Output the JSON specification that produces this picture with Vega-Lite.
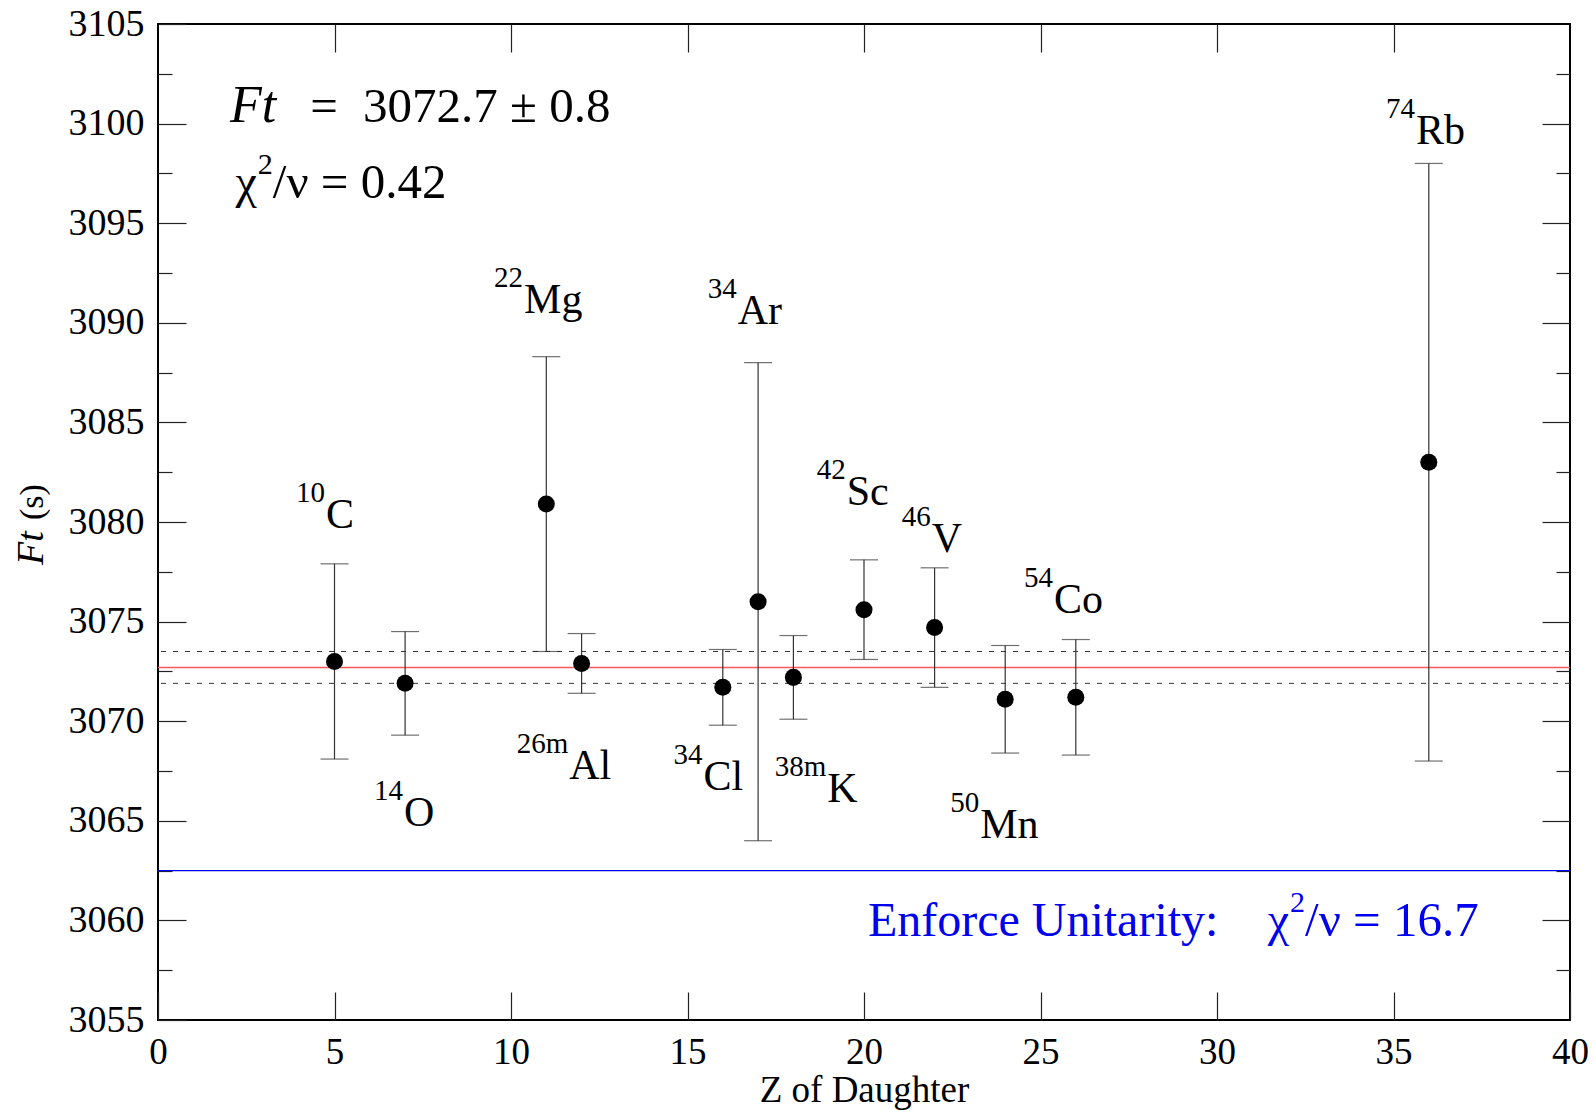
{
  "$schema": "https://vega.github.io/schema/vega-lite/v6.json",
  "width": 1412,
  "height": 996,
  "autosize": {"type": "none"},
  "padding": {"left": 158, "top": 24, "right": 26, "bottom": 92},
  "background": "white",
  "config": {
    "view": {"stroke": "black", "strokeWidth": 2},
    "font": "Liberation Serif",
    "axis": {
      "grid": false,
      "domain": false,
      "labelFont": "Liberation Serif",
      "titleFont": "Liberation Serif",
      "tickColor": "#222",
      "tickWidth": 1.2,
      "labelColor": "black",
      "titleColor": "black",
      "titleFontWeight": "normal"
    }
  },
  "datasets": {
    "pts": [
      {"nuc": "10C", "Z": 5, "Ft": 3073.0, "lo": 3068.1, "hi": 3077.9},
      {"nuc": "14O", "Z": 7, "Ft": 3071.9, "lo": 3069.3, "hi": 3074.5},
      {"nuc": "22Mg", "Z": 11, "Ft": 3080.9, "lo": 3073.5, "hi": 3088.3},
      {"nuc": "26mAl", "Z": 12, "Ft": 3072.9, "lo": 3071.4, "hi": 3074.4},
      {"nuc": "34Cl", "Z": 16, "Ft": 3071.7, "lo": 3069.8, "hi": 3073.6},
      {"nuc": "34Ar", "Z": 17, "Ft": 3076.0, "lo": 3064.0, "hi": 3088.0},
      {"nuc": "38mK", "Z": 18, "Ft": 3072.2, "lo": 3070.1, "hi": 3074.3},
      {"nuc": "42Sc", "Z": 20, "Ft": 3075.6, "lo": 3073.1, "hi": 3078.1},
      {"nuc": "46V", "Z": 22, "Ft": 3074.7, "lo": 3071.7, "hi": 3077.7},
      {"nuc": "50Mn", "Z": 24, "Ft": 3071.1, "lo": 3068.4, "hi": 3073.8},
      {"nuc": "54Co", "Z": 26, "Ft": 3071.2, "lo": 3068.3, "hi": 3074.1},
      {"nuc": "74Rb", "Z": 36, "Ft": 3083.0, "lo": 3068.0, "hi": 3098.0}
    ],
    "labels": [
      {"iso": "10", "el": "C", "lx": 4.76, "ly": 3079.7},
      {"iso": "14", "el": "O", "lx": 6.97, "ly": 3064.74},
      {"iso": "22", "el": "Mg", "lx": 10.37, "ly": 3090.47},
      {"iso": "26m", "el": "Al", "lx": 11.65, "ly": 3067.08},
      {"iso": "34", "el": "Cl", "lx": 15.45, "ly": 3066.55},
      {"iso": "34", "el": "Ar", "lx": 16.42, "ly": 3089.92},
      {"iso": "38m", "el": "K", "lx": 18.96, "ly": 3065.96},
      {"iso": "42", "el": "Sc", "lx": 19.51, "ly": 3080.85},
      {"iso": "46", "el": "V", "lx": 21.92, "ly": 3078.51},
      {"iso": "50", "el": "Mn", "lx": 23.29, "ly": 3064.12},
      {"iso": "54", "el": "Co", "lx": 25.38, "ly": 3075.42},
      {"iso": "74", "el": "Rb", "lx": 35.64, "ly": 3098.98}
    ]
  },
  "layer": [
    {
      "data": {"values": [{"Ft": 3073.5}, {"Ft": 3071.9}]},
      "mark": {"type": "rule", "color": "#333", "strokeWidth": 1, "strokeDash": [5, 7]},
      "encoding": {
        "y": {"field": "Ft", "type": "quantitative", "scale": {"domain": [3055, 3105], "nice": false, "zero": false}, "axis": null}
      }
    },
    {
      "data": {"values": [{"Ft": 3072.7}]},
      "mark": {"type": "rule", "color": "#ff5a5a", "strokeWidth": 1.5},
      "encoding": {
        "y": {"field": "Ft", "type": "quantitative", "scale": {"domain": [3055, 3105], "nice": false, "zero": false}, "axis": null}
      }
    },
    {
      "data": {"values": [{"Ft": 3062.5}]},
      "mark": {"type": "rule", "color": "#0000ee", "strokeWidth": 1.2},
      "encoding": {
        "y": {"field": "Ft", "type": "quantitative", "scale": {"domain": [3055, 3105], "nice": false, "zero": false}, "axis": null}
      }
    },
    {
      "data": {"name": "pts"},
      "mark": {"type": "rule", "color": "#333", "strokeWidth": 1.2},
      "encoding": {
        "x": {"field": "Z", "type": "quantitative", "scale": {"domain": [0, 40], "nice": false, "zero": false},
          "axis": {"orient": "bottom", "values": [0, 5, 10, 15, 20, 25, 30, 35, 40], "format": "d", "tickSize": -28, "labelPadding": 42, "labelFontSize": 37, "labelFlush": false, "labelBaseline": "top", "title": "Z of Daughter", "titleFontSize": 37, "titlePadding": 2}},
        "y": {"field": "lo", "type": "quantitative", "scale": {"domain": [3055, 3105], "nice": false, "zero": false},
          "axis": {"orient": "left", "values": [3055, 3060, 3065, 3070, 3075, 3080, 3085, 3090, 3095, 3100, 3105], "format": "d", "tickSize": -28, "labelPadding": 42, "labelFontSize": 38, "labelFlush": false, "labelBaseline": "middle", "title": null}},
        "y2": {"field": "hi"}
      }
    },
    {
      "data": {"name": "pts"},
      "mark": {"type": "tick", "orient": "horizontal", "size": 28, "thickness": 1.2, "color": "#333"},
      "encoding": {
        "x": {"field": "Z", "type": "quantitative", "scale": {"domain": [0, 40], "nice": false, "zero": false},
          "axis": {"orient": "top", "values": [5, 10, 15, 20, 25, 30, 35], "tickSize": -28, "labels": false, "title": null}},
        "y": {"field": "hi", "type": "quantitative", "scale": {"domain": [3055, 3105], "nice": false, "zero": false},
          "axis": {"orient": "left", "values": [3057.5, 3062.5, 3067.5, 3072.5, 3077.5, 3082.5, 3087.5, 3092.5, 3097.5, 3102.5], "tickSize": -14, "labels": false, "title": null}}
      }
    },
    {
      "data": {"name": "pts"},
      "mark": {"type": "tick", "orient": "horizontal", "size": 28, "thickness": 1.2, "color": "#333"},
      "encoding": {
        "x": {"field": "Z", "type": "quantitative", "scale": {"domain": [0, 40], "nice": false, "zero": false}, "axis": null},
        "y": {"field": "lo", "type": "quantitative", "scale": {"domain": [3055, 3105], "nice": false, "zero": false},
          "axis": {"orient": "right", "values": [3060, 3065, 3070, 3075, 3080, 3085, 3090, 3095, 3100], "tickSize": -28, "labels": false, "title": null}}
      }
    },
    {
      "data": {"name": "pts"},
      "mark": {"type": "circle", "size": 290, "color": "black", "opacity": 1},
      "encoding": {
        "x": {"field": "Z", "type": "quantitative", "scale": {"domain": [0, 40], "nice": false, "zero": false}, "axis": null},
        "y": {"field": "Ft", "type": "quantitative", "scale": {"domain": [3055, 3105], "nice": false, "zero": false},
          "axis": {"orient": "right", "values": [3057.5, 3062.5, 3067.5, 3072.5, 3077.5, 3082.5, 3087.5, 3092.5, 3097.5, 3102.5], "tickSize": -14, "labels": false, "title": null}}
      }
    },
    {
      "data": {"name": "labels"},
      "mark": {"type": "text", "align": "left", "baseline": "alphabetic", "fontSize": 42, "font": "Liberation Serif", "color": "black"},
      "encoding": {
        "x": {"field": "lx", "type": "quantitative", "scale": {"domain": [0, 40], "nice": false, "zero": false}, "axis": null},
        "y": {"field": "ly", "type": "quantitative", "scale": {"domain": [3055, 3105], "nice": false, "zero": false}, "axis": null},
        "text": {"field": "el"}
      }
    },
    {
      "data": {"name": "labels"},
      "mark": {"type": "text", "align": "right", "baseline": "alphabetic", "fontSize": 29, "dx": -1, "dy": -26, "font": "Liberation Serif", "color": "black"},
      "encoding": {
        "x": {"field": "lx", "type": "quantitative", "scale": {"domain": [0, 40], "nice": false, "zero": false}, "axis": null},
        "y": {"field": "ly", "type": "quantitative", "scale": {"domain": [3055, 3105], "nice": false, "zero": false}, "axis": null},
        "text": {"field": "iso"}
      }
    },
    {
      "data": {"values": [{"t": "Ft", "x": 2.04, "y": 3100.1}]},
      "mark": {"type": "text", "align": "left", "baseline": "alphabetic", "fontSize": 52, "fontStyle": "italic", "font": "Liberation Serif", "color": "black"},
      "encoding": {
        "x": {"field": "x", "type": "quantitative", "scale": {"domain": [0, 40], "nice": false, "zero": false}, "axis": null},
        "y": {"field": "y", "type": "quantitative", "scale": {"domain": [3055, 3105], "nice": false, "zero": false}, "axis": null},
        "text": {"field": "t"}
      }
    },
    {
      "data": {"values": [{"t": "=", "x": 4.31, "y": 3100.1}, {"t": "3072.7 ± 0.8", "x": 5.81, "y": 3100.1}]},
      "mark": {"type": "text", "align": "left", "baseline": "alphabetic", "fontSize": 49, "font": "Liberation Serif", "color": "black"},
      "encoding": {
        "x": {"field": "x", "type": "quantitative", "scale": {"domain": [0, 40], "nice": false, "zero": false}, "axis": null},
        "y": {"field": "y", "type": "quantitative", "scale": {"domain": [3055, 3105], "nice": false, "zero": false}, "axis": null},
        "text": {"field": "t"}
      }
    },
    {
      "data": {"values": [{"t": "χ", "x": 2.8, "y": 3096.25, "c": "k"}, {"t": "χ", "x": 32.04, "y": 3059.22, "c": "b"}]},
      "mark": {"type": "text", "align": "right", "baseline": "alphabetic", "fontSize": 48, "font": "Liberation Serif"},
      "encoding": {
        "x": {"field": "x", "type": "quantitative", "scale": {"domain": [0, 40], "nice": false, "zero": false}, "axis": null},
        "y": {"field": "y", "type": "quantitative", "scale": {"domain": [3055, 3105], "nice": false, "zero": false}, "axis": null},
        "text": {"field": "t"},
        "color": {"field": "c", "type": "nominal", "scale": {"domain": ["k", "b"], "range": ["black", "#0000ee"]}, "legend": null}
      }
    },
    {
      "data": {"values": [{"t": "2", "x": 2.8, "y": 3096.25, "c": "k"}, {"t": "2", "x": 32.04, "y": 3059.22, "c": "b"}]},
      "mark": {"type": "text", "align": "left", "baseline": "alphabetic", "fontSize": 30, "dx": 1, "dy": -24, "font": "Liberation Serif"},
      "encoding": {
        "x": {"field": "x", "type": "quantitative", "scale": {"domain": [0, 40], "nice": false, "zero": false}, "axis": null},
        "y": {"field": "y", "type": "quantitative", "scale": {"domain": [3055, 3105], "nice": false, "zero": false}, "axis": null},
        "text": {"field": "t"},
        "color": {"field": "c", "type": "nominal", "scale": {"domain": ["k", "b"], "range": ["black", "#0000ee"]}, "legend": null}
      }
    },
    {
      "data": {"values": [{"t": "/ν = 0.42", "x": 2.8, "y": 3096.25, "c": "k"}, {"t": "/ν = 16.7", "x": 32.04, "y": 3059.22, "c": "b"}]},
      "mark": {"type": "text", "align": "left", "baseline": "alphabetic", "fontSize": 49, "dx": 16, "font": "Liberation Serif"},
      "encoding": {
        "x": {"field": "x", "type": "quantitative", "scale": {"domain": [0, 40], "nice": false, "zero": false}, "axis": null},
        "y": {"field": "y", "type": "quantitative", "scale": {"domain": [3055, 3105], "nice": false, "zero": false}, "axis": null},
        "text": {"field": "t"},
        "color": {"field": "c", "type": "nominal", "scale": {"domain": ["k", "b"], "range": ["black", "#0000ee"]}, "legend": null}
      }
    },
    {
      "data": {"values": [{"t": "Enforce Unitarity:", "x": 20.11, "y": 3059.22}]},
      "mark": {"type": "text", "align": "left", "baseline": "alphabetic", "fontSize": 48, "font": "Liberation Serif", "color": "#0000ee"},
      "encoding": {
        "x": {"field": "x", "type": "quantitative", "scale": {"domain": [0, 40], "nice": false, "zero": false}, "axis": null},
        "y": {"field": "y", "type": "quantitative", "scale": {"domain": [3055, 3105], "nice": false, "zero": false}, "axis": null},
        "text": {"field": "t"}
      }
    },
    {
      "data": {"values": [{"t": "Ft", "x": -3.26, "y": 3077.84}]},
      "mark": {"type": "text", "align": "left", "baseline": "alphabetic", "angle": 270, "fontSize": 38, "fontStyle": "italic", "font": "Liberation Serif", "color": "black"},
      "encoding": {
        "x": {"field": "x", "type": "quantitative", "scale": {"domain": [0, 40], "nice": false, "zero": false}, "axis": null},
        "y": {"field": "y", "type": "quantitative", "scale": {"domain": [3055, 3105], "nice": false, "zero": false}, "axis": null},
        "text": {"field": "t"}
      }
    },
    {
      "data": {"values": [{"t": "(s)", "x": -3.26, "y": 3080.1}]},
      "mark": {"type": "text", "align": "left", "baseline": "alphabetic", "angle": 270, "fontSize": 34, "font": "Liberation Serif", "color": "black"},
      "encoding": {
        "x": {"field": "x", "type": "quantitative", "scale": {"domain": [0, 40], "nice": false, "zero": false}, "axis": null},
        "y": {"field": "y", "type": "quantitative", "scale": {"domain": [3055, 3105], "nice": false, "zero": false}, "axis": null},
        "text": {"field": "t"}
      }
    }
  ],
  "resolve": {"axis": {"x": "independent", "y": "independent"}}
}
